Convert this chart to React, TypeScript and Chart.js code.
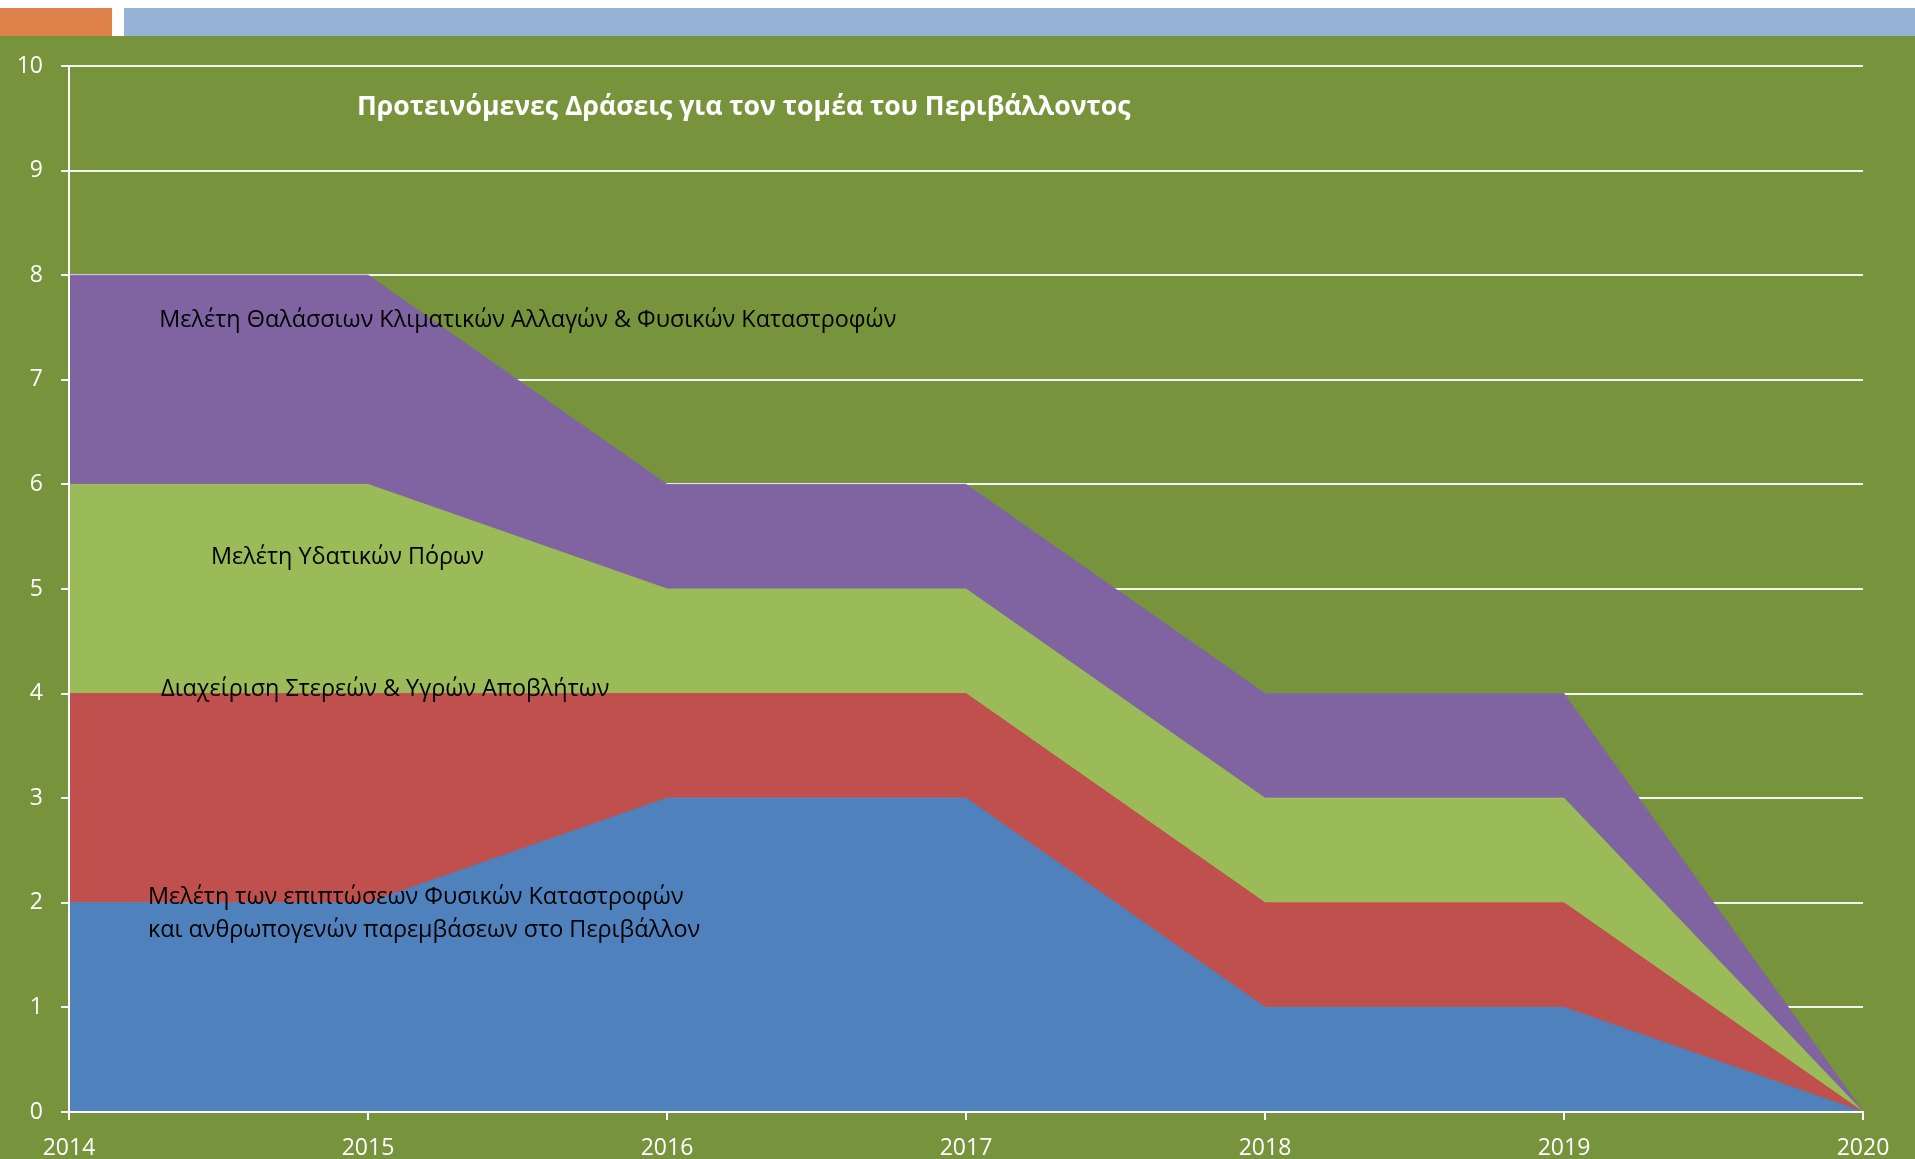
import React, { useEffect, useRef } from "react";
import { Chart, registerables } from "chart.js";

Chart.register(...registerables);

const years = ["2014", "2015", "2016", "2017", "2018", "2019", "2020"];
const impactsSeries = [2, 2, 3, 3, 1, 1, 0];
const wasteSeries = [2, 2, 1, 1, 1, 1, 0];
const waterSeries = [2, 2, 1, 1, 1, 1, 0];
const marineSeries = [2, 2, 1, 1, 1, 1, 0];
const seriesNames = [
  "Μελέτη των επιπτώσεων Φυσικών Καταστροφών και ανθρωπογενών παρεμβάσεων στο Περιβάλλον",
  "Διαχείριση Στερεών & Υγρών Αποβλήτων",
  "Μελέτη Υδατικών Πόρων",
  "Μελέτη Θαλάσσιων Κλιματικών Αλλαγών & Φυσικών Καταστροφών",
];
const seriesColors = ["#4F81BD", "#C0504D", "#9BBB59", "#8064A2"];
const titleText = "Προτεινόμενες Δράσεις για τον τομέα του Περιβάλλοντος";

// label placements (x: category index, y: data value)
const labelLines = [
  { lines: ["Μελέτη Θαλάσσιων Κλιματικών Αλλαγών & Φυσικών Καταστροφών"], x: 0.302, y: 7.57 },
  { lines: ["Μελέτη Υδατικών Πόρων"], x: 0.475, y: 5.3 },
  { lines: ["Διαχείριση Στερεών & Υγρών Αποβλήτων"], x: 0.308, y: 4.04 },
  {
    lines: [
      "Μελέτη των επιπτώσεων Φυσικών Καταστροφών",
      "και ανθρωπογενών παρεμβάσεων στο Περιβάλλον",
    ],
    x: 0.264,
    y: 2.05,
  },
];

const FONT = '"Open Sans", "DejaVu Sans", sans-serif';

const decorPlugin = {
  id: "decor",
  beforeDraw(chart: any) {
    const { ctx, width, height } = chart;
    ctx.save();
    ctx.fillStyle = "#FFFFFF";
    ctx.fillRect(0, 0, width, height);
    ctx.fillStyle = "#77933C";
    ctx.fillRect(0, 36, width, height - 36);
    ctx.fillStyle = "#DF8249";
    ctx.fillRect(0, 8, 112, 28);
    ctx.fillStyle = "#95B4D5";
    ctx.fillRect(124, 8, width - 124, 28);
    ctx.restore();
  },
  afterDatasetsDraw(chart: any) {
    const { ctx, chartArea } = chart;
    const xs = chart.scales.x;
    const ys = chart.scales.y;
    ctx.save();
    // axis lines on top of areas
    ctx.strokeStyle = "#FFFFFF";
    ctx.lineWidth = 2;
    ctx.beginPath();
    ctx.moveTo(chartArea.left, chartArea.top);
    ctx.lineTo(chartArea.left, chartArea.bottom);
    ctx.lineTo(chartArea.right, chartArea.bottom);
    ctx.stroke();

    // title
    ctx.fillStyle = "#FFFFFF";
    ctx.font = "bold 26.6px " + FONT;
    ctx.textAlign = "left";
    ctx.textBaseline = "middle";
    ctx.fillText(titleText, xs.getPixelForValue(0) + 288, ys.getPixelForValue(10) + 41);

    // series labels
    ctx.fillStyle = "#000000";
    ctx.font = "23.4px " + FONT;
    labelLines.forEach((l) => {
      const px = xs.getPixelForValue(l.x);
      const py = ys.getPixelForValue(l.y);
      l.lines.forEach((t, i) => ctx.fillText(t, px, py + i * 32.5));
    });
    ctx.restore();
  },
};

export default function App() {
  const ref = useRef<HTMLCanvasElement | null>(null);
  useEffect(() => {
    if (!ref.current) return;
    const data = [impactsSeries, wasteSeries, waterSeries, marineSeries];
    const chart = new Chart(ref.current, {
      type: "line",
      data: {
        labels: years,
        datasets: data.map((d, i) => ({
          label: seriesNames[i],
          data: d,
          backgroundColor: seriesColors[i],
          borderColor: seriesColors[i],
          borderWidth: 1,
          pointRadius: 0,
          tension: 0,
          fill: i === 0 ? "origin" : "-1",
        })),
      },
      options: {
        animation: false,
        responsive: false,
        maintainAspectRatio: false,
        layout: { padding: { left: 0, top: 66, right: 52, bottom: 0 } },
        plugins: {
          legend: { display: false },
          title: { display: false },
          tooltip: { enabled: false },
        },
        scales: {
          x: {
            type: "category",
            offset: false,
            afterFit: (s: any) => {
              s.height = 47;
            },
            grid: {
              drawOnChartArea: false,
              drawTicks: true,
              tickLength: 8,
              color: "#FFFFFF",
              lineWidth: 2,
            },
            border: { display: true, color: "#FFFFFF", width: 2 },
            ticks: {
              color: "#FFFFFF",
              font: { family: FONT, size: 23 },
              padding: 15,
              maxRotation: 0,
              autoSkip: false,
            },
          },
          y: {
            stacked: true,
            min: 0,
            max: 10,
            afterFit: (s: any) => {
              s.width = 69;
            },
            grid: {
              color: "#F4F4F4",
              lineWidth: 2,
              tickLength: 8,
              drawTicks: true,
            },
            border: { display: true, color: "#FFFFFF", width: 2 },
            ticks: {
              stepSize: 1,
              color: "#FFFFFF",
              font: { family: FONT, size: 23 },
              padding: 18,
            },
          },
        },
      },
      plugins: [decorPlugin],
    });
    return () => chart.destroy();
  }, []);
  return (
    <div style={{ position: "fixed", left: 0, top: 0, width: 1915, height: 1159 }}>
      <canvas ref={ref} width={1915} height={1159} style={{ width: 1915, height: 1159, display: "block" }} />
    </div>
  );
}
